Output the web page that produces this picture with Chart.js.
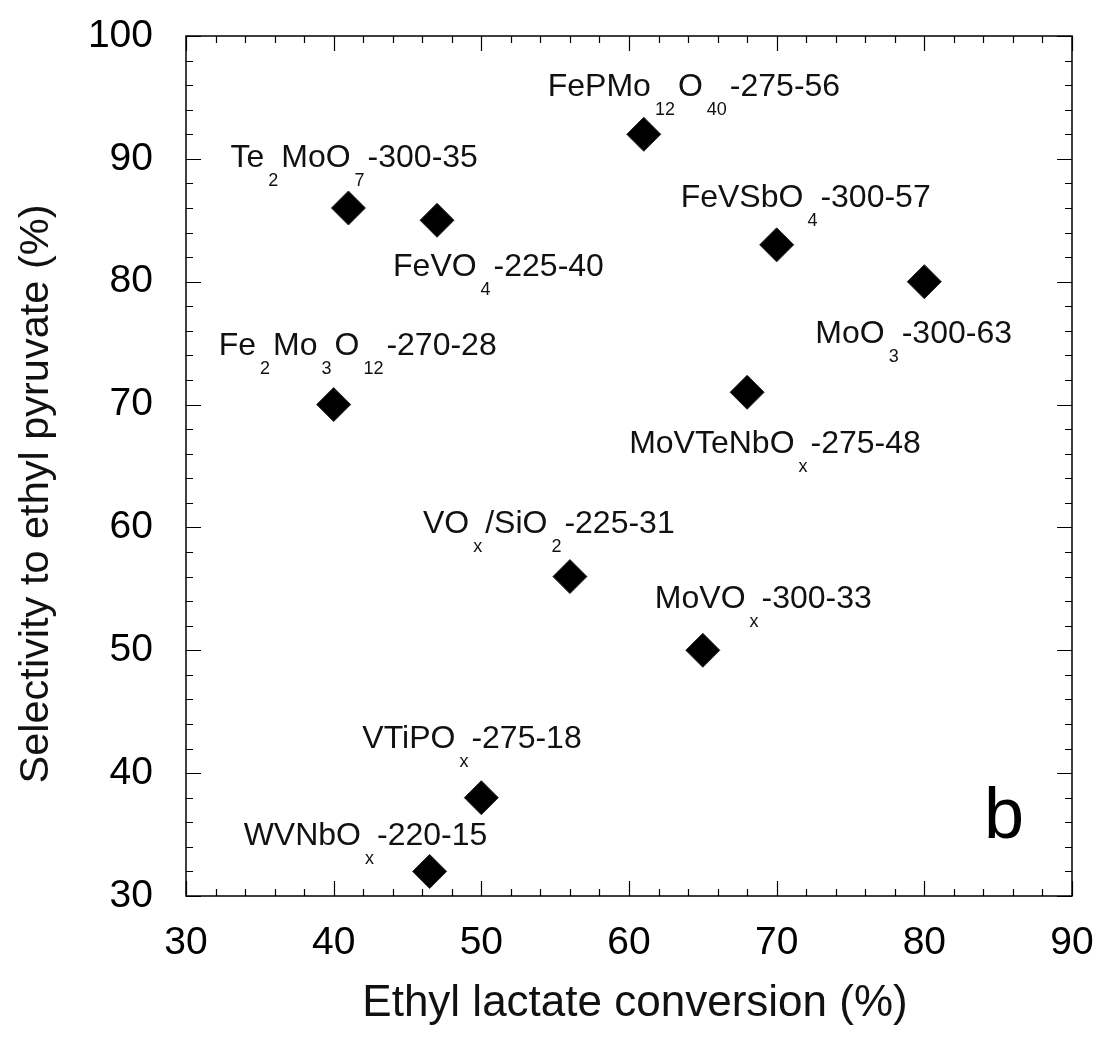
<!DOCTYPE html>
<html><head><meta charset="utf-8">
<script src="https://cdn.jsdelivr.net/npm/chart.js@4/dist/chart.umd.min.js"></script>
<style>html,body{margin:0;padding:0;background:#fff;}</style>
</head><body>
<canvas id="c" width="1102" height="1047" style="display:block;width:1102px;height:1047px"></canvas>
<script>
// ---- data ----
const catalysts = [
  'FePMo_{12}O_{40}-275-56',
  'Te_{2}MoO_{7}-300-35',
  'FeVO_{4}-225-40',
  'FeVSbO_{4}-300-57',
  'MoO_{3}-300-63',
  'Fe_{2}Mo_{3}O_{12}-270-28',
  'MoVTeNbO_{x}-275-48',
  'VO_{x}/SiO_{2}-225-31',
  'MoVO_{x}-300-33',
  'VTiPO_{x}-275-18',
  'WVNbO_{x}-220-15'
];
const conversion  = [61, 41, 47, 70, 80, 40, 68, 56, 65, 50, 46.5];
const selectivity = [92, 86, 85, 83, 80, 70, 71, 56, 50, 38, 32];
const xTickValues = [30, 40, 50, 60, 70, 80, 90];
const yTickValues = [30, 40, 50, 60, 70, 80, 90, 100];
const xTitle = 'Ethyl lactate conversion (%)';
const yTitle = 'Selectivity to ethyl pyruvate (%)';
const panelLetter = 'b';

// label placement (pixel offsets of text left/baseline from each marker)
const labelOffsets = [
  [-96, -38], [-118, -41], [-44, 56], [-96, -38], [-109, 61],
  [-115, -50], [-118, 61], [-147, -44], [-48, -42], [-119, -50], [-186, -26]
];

const FONT = '"Liberation Sans", Arial, Helvetica, sans-serif';

const frameTicks = {
  id: 'frameTicks',
  afterDraw(chart) {
    const ctx = chart.ctx, a = chart.chartArea;
    const xs = chart.scales.x, ys = chart.scales.y;
    ctx.save();
    ctx.strokeStyle = '#000';
    ctx.lineWidth = 1.5;
    ctx.strokeRect(a.left, a.top, a.right - a.left, a.bottom - a.top);
    ctx.beginPath();
    for (let v = xs.min; v <= xs.max + 1e-9; v += 2) {
      const p = Math.round(xs.getPixelForValue(v)) + 0.5;
      const L = (Math.abs(v % 10) < 1e-9) ? 15 : 7;
      ctx.moveTo(p, a.bottom); ctx.lineTo(p, a.bottom - L);
      ctx.moveTo(p, a.top); ctx.lineTo(p, a.top + L);
    }
    for (let v = ys.min; v <= ys.max + 1e-9; v += 2) {
      const p = Math.round(ys.getPixelForValue(v)) + 0.5;
      const L = (Math.abs(v % 10) < 1e-9) ? 15 : 7;
      ctx.moveTo(a.left, p); ctx.lineTo(a.left + L, p);
      ctx.moveTo(a.right, p); ctx.lineTo(a.right - L, p);
    }
    ctx.lineWidth = 1.2;
    ctx.stroke();
    ctx.fillStyle = '#000';
    // panel letter
    ctx.font = '72px ' + FONT;
    ctx.textBaseline = 'alphabetic';
    ctx.textAlign = 'left';
    ctx.fillText(panelLetter, a.right - 88, a.bottom - 58);
    // axis titles
    ctx.fillStyle = '#111';
    ctx.textAlign = 'center';
    ctx.textBaseline = 'middle';
    ctx.font = '44px ' + FONT;
    ctx.fillText(xTitle, (a.left + a.right) / 2 + 6, 1004);
    ctx.save();
    ctx.translate(37, (a.top + a.bottom) / 2 + 28);
    ctx.rotate(-Math.PI / 2);
    ctx.font = '41.5px ' + FONT;
    ctx.fillText(yTitle, 0, 0);
    ctx.restore();
    ctx.restore();
  }
};

function parseLabel(s) {
  const segs = [];
  const re = /_\{([^}]*)\}/g;
  let last = 0, m;
  while ((m = re.exec(s))) {
    if (m.index > last) segs.push({t: s.slice(last, m.index), sub: false});
    segs.push({t: m[1], sub: true});
    last = re.lastIndex;
  }
  if (last < s.length) segs.push({t: s.slice(last), sub: false});
  return segs;
}

const labelPlugin = {
  id: 'labelPlugin',
  afterDatasetsDraw(chart) {
    const ctx = chart.ctx;
    const xs = chart.scales.x, ys = chart.scales.y;
    ctx.save();
    ctx.fillStyle = '#111';
    ctx.textBaseline = 'alphabetic';
    ctx.textAlign = 'left';
    catalysts.forEach((lab, i) => {
      const px = xs.getPixelForValue(conversion[i]);
      const py = ys.getPixelForValue(selectivity[i]);
      let x = px + labelOffsets[i][0];
      const y = py + labelOffsets[i][1];
      parseLabel(lab).forEach(seg => {
        if (seg.sub) {
          ctx.font = '18px ' + FONT;
          x += 4;
          ctx.fillText(seg.t, x, y + 19);
          x += ctx.measureText(seg.t).width + 3;
        } else {
          ctx.font = '32px ' + FONT;
          ctx.fillText(seg.t, x, y);
          x += ctx.measureText(seg.t).width;
        }
      });
    });
    ctx.restore();
  }
};

new Chart(document.getElementById('c'), {
  type: 'scatter',
  data: {
    datasets: [{
      data: conversion.map((v, i) => ({x: v, y: selectivity[i]})),
      pointStyle: 'rectRot',
      pointRadius: 17,
      pointHoverRadius: 17,
      backgroundColor: '#000',
      borderColor: '#222',
      borderWidth: 1
    }]
  },
  options: {
    responsive: false,
    animation: false,
    devicePixelRatio: 1,
    layout: {padding: {top: 36, right: 30, left: 0, bottom: 0}},
    plugins: {legend: {display: false}, tooltip: {enabled: false}},
    scales: {
      x: {
        type: 'linear', min: 30, max: 90,
        afterBuildTicks: s => { s.ticks = xTickValues.map(v => ({value: v})); },
        afterFit: s => { s.height = 151; s.paddingLeft = 0; s.paddingRight = 0; },
        grid: {display: false, drawTicks: false},
        border: {display: false},
        ticks: {color: '#000', font: {family: FONT, size: 39}, padding: 24, maxRotation: 0},
        title: {display: false, text: xTitle}
      },
      y: {
        type: 'linear', min: 30, max: 100,
        afterBuildTicks: s => { s.ticks = yTickValues.map(v => ({value: v})); },
        afterFit: s => { s.width = 186; s.paddingTop = 0; s.paddingBottom = 0; },
        grid: {display: false, drawTicks: false},
        border: {display: false},
        ticks: {color: '#000', font: {family: FONT, size: 39}, padding: 33},
        title: {display: false, text: yTitle}
      }
    }
  },
  plugins: [frameTicks, labelPlugin]
});
</script>
</body></html>
